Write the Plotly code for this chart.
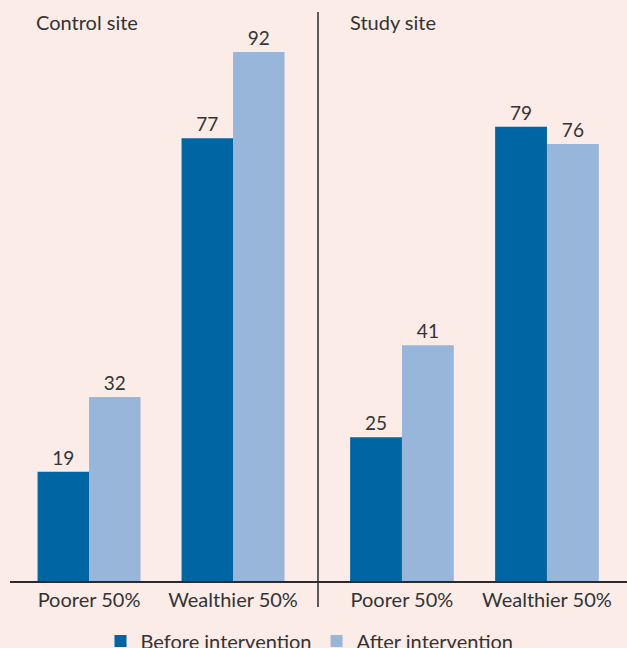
import plotly.graph_objects as go
from plotly.subplots import make_subplots

# Data
groups = ["Poorer 50%", "Wealthier 50%"]
control_before = [19, 77]
control_after = [32, 92]
study_before = [25, 79]
study_after = [41, 76]

dark_blue = "#0065A3"
light_blue = "#98B6DA"
bg = "#FBECE8"
ink = "#333333"
font_family = "Lato"

fig = make_subplots(rows=1, cols=2, horizontal_spacing=0,
                    column_widths=[308, 309])

fig.add_trace(go.Bar(x=groups, y=control_before, name="Before intervention",
                     marker_color=dark_blue, text=control_before,
                     textposition="outside", cliponaxis=False,
                     legendgroup="b"), row=1, col=1)
fig.add_trace(go.Bar(x=groups, y=control_after, name="After intervention",
                     marker_color=light_blue, text=control_after,
                     textposition="outside", cliponaxis=False,
                     legendgroup="a"), row=1, col=1)
fig.add_trace(go.Bar(x=groups, y=study_before, name="Before intervention",
                     marker_color=dark_blue, text=study_before,
                     textposition="outside", cliponaxis=False,
                     legendgroup="b", showlegend=False), row=1, col=2)
fig.add_trace(go.Bar(x=groups, y=study_after, name="After intervention",
                     marker_color=light_blue, text=study_after,
                     textposition="outside", cliponaxis=False,
                     legendgroup="a", showlegend=False), row=1, col=2)

fig.update_traces(marker_line_width=0,
                  textfont=dict(size=19, color=ink, family=font_family))

fig.update_xaxes(showgrid=False, zeroline=False, ticks="", showline=True,
                 linecolor="#2b2b2b", linewidth=2,
                 tickfont=dict(size=20, color=ink, family=font_family))
fig.update_xaxes(range=[-0.549, 1.590], row=1, col=1)
fig.update_xaxes(range=[-0.579, 1.552], row=1, col=2)
fig.update_yaxes(range=[0, 101.04], visible=False)

fig.add_annotation(text="Control site", xref="paper", yref="paper",
                   x=(34 - 10) / 617, y=(581 - 22) / 581, xanchor="left",
                   yanchor="middle", showarrow=False,
                   font=dict(size=20, color=ink, family=font_family))
fig.add_annotation(text="Study site", xref="paper", yref="paper",
                   x=(348 - 10) / 617, y=(581 - 22) / 581, xanchor="left",
                   yanchor="middle", showarrow=False,
                   font=dict(size=20, color=ink, family=font_family))

fig.add_shape(type="line", xref="paper", yref="paper",
              x0=(318 - 10) / 617, x1=(318 - 10) / 617,
              y0=(581 - 607) / 581, y1=(581 - 12) / 581,
              line=dict(color="#2b2b2b", width=1.5))

fig.update_layout(
    width=627, height=648,
    margin=dict(l=10, r=0, t=0, b=67, autoexpand=False),
    paper_bgcolor=bg, plot_bgcolor=bg,
    barmode="group", bargap=0.285, bargroupgap=0,
    showlegend=True,
    legend=dict(orientation="h", x=0.5 - 9 / 617, xanchor="center",
                y=(581 - 641) / 581, yanchor="middle",
                font=dict(size=20, color=ink, family=font_family),
                itemwidth=30, tracegroupgap=0, bgcolor="rgba(0,0,0,0)"),
)

fig.write_html("out.html", config={"displayModeBar": False},
               post_script="document.body.style.margin='0px';")
